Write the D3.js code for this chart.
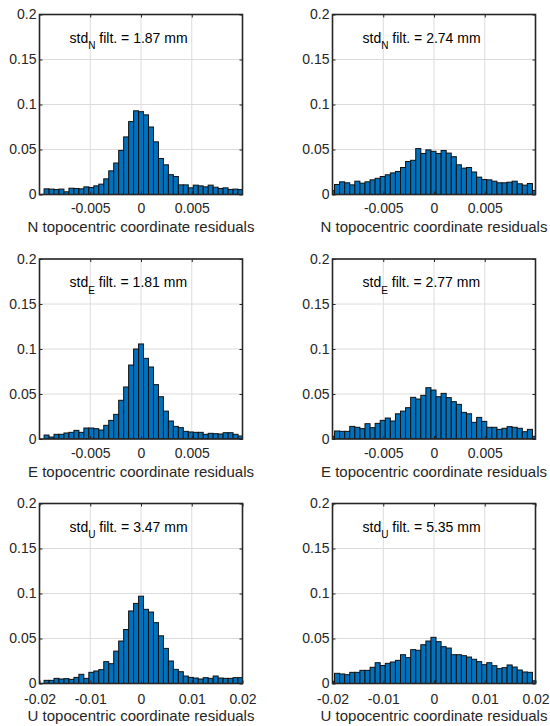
<!DOCTYPE html>
<html>
<head>
<meta charset="utf-8">
<script src="https://cdn.jsdelivr.net/npm/d3@7"></script>
<style>
  body { margin: 0; background: #fff; }
  text { font-family: "Liberation Sans", Arial, sans-serif; }
</style>
</head>
<body>
<div id="chart"></div>
<script>
// histogram bar heights (probability)
const nLeft = [0.0063, 0.006, 0.0056, 0.006, 0.003, 0.007, 0.0067, 0.0063, 0.0085, 0.0078,
  0.0096, 0.0115, 0.0174, 0.0263, 0.035, 0.049, 0.064, 0.081, 0.093, 0.092,
  0.0885, 0.075, 0.0585, 0.040, 0.033, 0.022, 0.020, 0.0107, 0.0107, 0.0074,
  0.0104, 0.0096, 0.0085, 0.0104, 0.0081, 0.0067, 0.0074, 0.0056, 0.006, 0.0055];
const nRight = [0.0044, 0.0111, 0.0141, 0.013, 0.0107, 0.0148, 0.0126, 0.0141, 0.0163, 0.018, 0.020,
  0.0219, 0.024, 0.0256, 0.030, 0.0367, 0.038, 0.051, 0.0456, 0.0496, 0.048,
  0.0456, 0.0489, 0.046, 0.042, 0.033, 0.0293, 0.030, 0.025, 0.0193, 0.0167,
  0.0163, 0.0148, 0.013, 0.013, 0.0137, 0.0148, 0.0119, 0.0104, 0.0122, 0.0045];
const eLeft = [0.0044, 0.0022, 0.0052, 0.0052, 0.0067, 0.0074, 0.0096, 0.0074, 0.0122, 0.0122,
  0.0115, 0.010, 0.0152, 0.0207, 0.0274, 0.043, 0.0578, 0.0822, 0.100, 0.1056,
  0.0896, 0.080, 0.0604, 0.047, 0.031, 0.020, 0.014, 0.0126, 0.0085, 0.0078,
  0.0074, 0.0074, 0.0052, 0.0063, 0.0059, 0.0056, 0.007, 0.007, 0.0052, 0.0033];
const eRight = [0.003, 0.0089, 0.0085, 0.0085, 0.014, 0.013, 0.0115, 0.017, 0.0126, 0.0174, 0.0207,
  0.0233, 0.020, 0.028, 0.031, 0.0348, 0.0463, 0.0444, 0.0485, 0.057, 0.0544,
  0.047, 0.0507, 0.046, 0.0415, 0.0385, 0.0296, 0.028, 0.0185, 0.024, 0.0196,
  0.013, 0.013, 0.0107, 0.0119, 0.0137, 0.013, 0.0119, 0.0081, 0.0107, 0.003];
const uLeft = [0.0035, 0.0035, 0.0057, 0.005, 0.0054, 0.0046, 0.0068, 0.0102, 0.0057, 0.0124,
  0.0139, 0.0154, 0.0243, 0.022, 0.036, 0.0472, 0.060, 0.0806, 0.089, 0.097,
  0.0824, 0.0794, 0.0676, 0.053, 0.039, 0.025, 0.0157, 0.0131, 0.0083, 0.0068,
  0.0061, 0.005, 0.0065, 0.0057, 0.0083, 0.0061, 0.0057, 0.0057, 0.0065, 0.0065];
const uRight = [0.002, 0.0113, 0.0106, 0.0098, 0.0124, 0.0124, 0.0146, 0.0146, 0.018, 0.0231, 0.020,
  0.0224, 0.0239, 0.0257, 0.032, 0.0287, 0.0376, 0.0369, 0.0431, 0.0472, 0.0513,
  0.0465, 0.0409, 0.0394, 0.032, 0.032, 0.0309, 0.0294, 0.0269, 0.0243, 0.0209,
  0.0231, 0.0198, 0.0165, 0.0176, 0.0206, 0.0183, 0.015, 0.0128, 0.0124, 0.003];

// first bin edge and bin width of each histogram
const binLo = [-0.00955, -0.0103, -0.00955, -0.0103, -0.0191, -0.0206];
const binWidth = [0.00049, 0.0005, 0.00049, 0.0005, 0.00098, 0.001];

const components = ['N', 'E', 'U'];
const stdValues = ['1.87', '2.74', '1.81', '2.77', '3.47', '5.35'];

const yTicks = [0, 0.05, 0.1, 0.15, 0.2];
const yTickLabels = ['0', '0.05', '0.1', '0.15', '0.2'];
const xTicksNE = [-0.005, 0, 0.005];
const xTickLabelsNE = ['-0.005', '0', '0.005'];
const xTicksU = [-0.02, -0.01, 0, 0.01, 0.02];
const xTickLabelsU = ['-0.02', '-0.01', '0', '0.01', '0.02'];
const xDomainNE = [-0.01, 0.01];
const xDomainU = [-0.02, 0.02];

const series = [nLeft, nRight, eLeft, eRight, uLeft, uRight];

const svgWidth = 550, svgHeight = 726;
const colLeft = [39.5, 332.5];
const rowTop = [14.5, 259, 503.5];
const pw = 203, ph = 180;

const svg = d3.select('#chart').append('svg')
  .attr('width', svgWidth)
  .attr('height', svgHeight);

series.forEach((values, idx) => {
  const row = Math.floor(idx / 2), col = idx % 2;
  const comp = components[row];
  const isU = comp === 'U';
  const g = svg.append('g')
    .attr('transform', `translate(${colLeft[col]},${rowTop[row]})`);

  const x = d3.scaleLinear().domain(isU ? xDomainU : xDomainNE).range([0, pw]);
  const y = d3.scaleLinear().domain([0, 0.2]).range([ph, 0]);
  const xt = isU ? xTicksU : xTicksNE;
  const xl = isU ? xTickLabelsU : xTickLabelsNE;

  // grid
  g.append('g').selectAll('line')
    .data(xt)
    .join('line')
    .attr('x1', d => x(d)).attr('x2', d => x(d))
    .attr('y1', 0).attr('y2', ph)
    .attr('stroke', '#dcdcdc').attr('stroke-width', 1);
  g.append('g').selectAll('line')
    .data(yTicks)
    .join('line')
    .attr('y1', d => y(d)).attr('y2', d => y(d))
    .attr('x1', 0).attr('x2', pw)
    .attr('stroke', '#dcdcdc').attr('stroke-width', 1);

  const clipId = 'clip' + idx;
  g.append('clipPath').attr('id', clipId)
    .append('rect').attr('width', pw).attr('height', ph);

  const lo = binLo[idx], w = binWidth[idx];
  g.append('g')
    .attr('clip-path', `url(#${clipId})`)
    .selectAll('rect')
    .data(values)
    .join('rect')
    .attr('x', (d, i) => x(lo + i * w))
    .attr('width', (d, i) => x(lo + (i + 1) * w) - x(lo + i * w))
    .attr('y', d => y(d))
    .attr('height', d => y(0) - y(d))
    .attr('fill', '#0072BD')
    .attr('stroke', '#111')
    .attr('stroke-width', 1);

  // axes: ticks point inward like matlab, box on
  const ax = g.append('g')
    .attr('transform', `translate(0,${ph})`)
    .call(d3.axisBottom(x).tickValues(xt).tickFormat((d, i) => xl[i]).tickSizeInner(-3).tickSizeOuter(0).tickPadding(isU ? 10.5 : 9));
  const ay = g.append('g')
    .call(d3.axisLeft(y).tickValues(yTicks).tickFormat((d, i) => yTickLabels[i]).tickSizeInner(-3).tickSizeOuter(0).tickPadding(3));
  g.append('g')
    .call(d3.axisTop(x).tickValues(xt).tickFormat('').tickSizeInner(-3).tickSizeOuter(0));
  g.append('g')
    .attr('transform', `translate(${pw},0)`)
    .call(d3.axisRight(y).tickValues(yTicks).tickFormat('').tickSizeInner(-3).tickSizeOuter(0));

  g.selectAll('.domain').remove();
  g.selectAll('.tick line').attr('stroke', '#262626');
  [ax, ay].forEach(a => a.selectAll('text')
    .attr('fill', '#262626')
    .style('font-size', '14px'));
  ax.selectAll('text').attr('dy', '0.71em');

  g.append('rect')
    .attr('width', pw).attr('height', ph)
    .attr('fill', 'none')
    .attr('stroke', '#262626')
    .attr('stroke-width', 1.6);

  g.append('text')
    .attr('x', pw / 2)
    .attr('y', ph + 37.5)
    .attr('text-anchor', 'middle')
    .attr('fill', '#262626')
    .style('font-size', '15px')
    .text(`${comp} topocentric coordinate residuals`);

  const note = g.append('text')
    .attr('x', 30)
    .attr('y', 28)
    .attr('fill', '#000')
    .style('font-size', '14px')
    .style('white-space', 'pre');
  note.append('tspan').text('std');
  note.append('tspan').attr('dy', 6.5).style('font-size', '10px').text(comp);
  note.append('tspan').attr('dy', -6.5).text(` filt. = ${stdValues[idx]} mm`);
});
</script>
</body>
</html>
